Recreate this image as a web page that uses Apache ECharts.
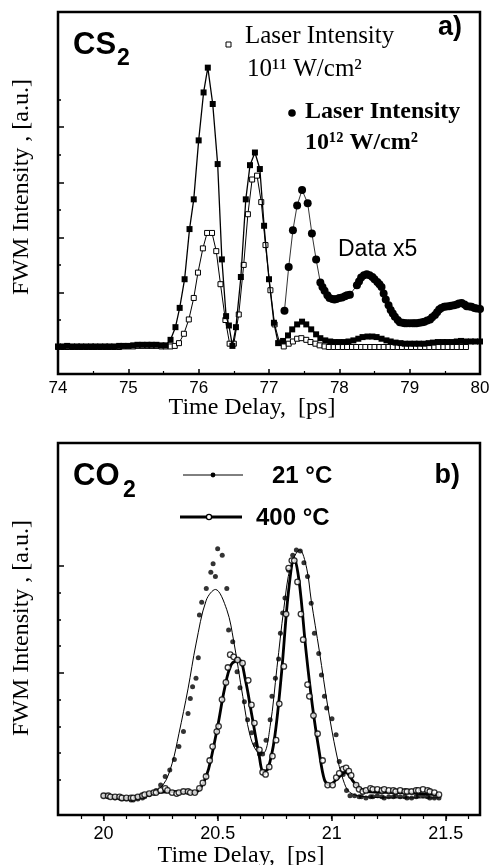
<!DOCTYPE html>
<html><head><meta charset="utf-8">
<script src="https://cdn.jsdelivr.net/npm/echarts@6/dist/echarts.min.js"></script>
<style>html,body{margin:0;padding:0;background:#fff}#c{width:493px;height:865px}</style>
</head><body><div id="c"></div>
<script>
// ---------- Panel a) CS2 ----------
const aXLabels = [74, 75, 76, 77, 78, 79, 80];
const aYMajor = [0, 1, 2, 3, 4];
const aYMinor = [0.5, 1.5, 2.5, 3.5, 4.5];

// 10^11 W/cm^2 (open squares)
const s11T = [74.00,74.07,74.13,74.20,74.27,74.33,74.40,74.47,74.53,74.60,74.67,74.73,74.80,74.87,74.93,75.00,75.07,75.13,75.20,75.27,75.33,75.40,75.47,75.53,75.60,75.66,75.72,75.79,75.86,75.93,75.99,76.06,76.12,76.19,76.25,76.31,76.38,76.44,76.50,76.57,76.64,76.70,76.76,76.83,76.89,76.95,77.02,77.08,77.15,77.21,77.28,77.34,77.40,77.46,77.53,77.59,77.66,77.72,77.79,77.85,77.92,77.98,78.05,78.11,78.18,78.24,78.31,78.37,78.44,78.50,78.57,78.63,78.70,78.76,78.83,78.89,78.96,79.02,79.09,79.15,79.22,79.28,79.35,79.41,79.48,79.54,79.61,79.67,79.74,79.80];
const s11V = [0.01,0.01,0.01,0.01,0.01,0.01,0.01,0.01,0.01,0.01,0.01,0.01,0.01,0.01,0.02,0.02,0.02,0.03,0.03,0.03,0.03,0.03,0.02,0.02,0.02,0.03,0.08,0.25,0.51,0.90,1.36,1.80,2.08,2.08,1.75,1.15,0.50,0.07,0.07,0.60,1.50,2.42,3.05,3.12,2.64,1.86,1.04,0.42,0.09,0.02,0.07,0.11,0.16,0.17,0.14,0.10,0.07,0.04,0.02,0.01,0.01,0.01,0.01,0.01,0.01,0.01,0.01,0.01,0.01,0.01,0.01,0.01,0.01,0.01,0.01,0.01,0.01,0.01,0.01,0.01,0.01,0.01,0.01,0.01,0.01,0.01,0.01,0.01,0.01,0.01];

// 10^12 W/cm^2 (filled squares)
const s12T = [74.00,74.07,74.13,74.20,74.27,74.33,74.40,74.47,74.53,74.60,74.67,74.73,74.80,74.87,74.93,75.00,75.07,75.13,75.20,75.27,75.33,75.40,75.47,75.53,75.60,75.67,75.73,75.80,75.87,75.93,76.00,76.07,76.13,76.20,76.27,76.33,76.39,76.43,76.48,76.53,76.60,76.67,76.73,76.80,76.87,76.93,77.00,77.07,77.13,77.20,77.27,77.33,77.40,77.47,77.53,77.60,77.67,77.73,77.80,77.87,77.93,78.00,78.07,78.13,78.20,78.27,78.33,78.40,78.47,78.53,78.60,78.67,78.73,78.80,78.87,78.93,79.00,79.07,79.13,79.20,79.27,79.33,79.40,79.47,79.53,79.60,79.67,79.73,79.80,79.87,79.93,80.00];
const s12V = [0.02,0.02,0.03,0.02,0.02,0.02,0.02,0.02,0.02,0.02,0.02,0.02,0.02,0.03,0.03,0.03,0.04,0.05,0.05,0.05,0.05,0.05,0.04,0.04,0.14,0.37,0.72,1.24,2.15,2.69,3.76,4.63,5.08,4.42,3.33,1.60,0.57,0.40,0.03,0.37,1.28,2.69,3.31,3.54,3.24,2.21,1.24,0.45,0.08,0.12,0.22,0.33,0.42,0.47,0.42,0.33,0.24,0.17,0.13,0.11,0.10,0.10,0.10,0.11,0.13,0.16,0.19,0.20,0.20,0.19,0.16,0.13,0.11,0.09,0.08,0.07,0.07,0.07,0.07,0.07,0.08,0.09,0.10,0.10,0.10,0.10,0.11,0.12,0.11,0.11,0.11,0.11];

// Data x5 (filled circles)
const sx5T = [77.22,77.28,77.34,77.40,77.47,77.55,77.61,77.67,77.73,77.76,77.79,77.83,77.86,77.90,77.93,77.96,78.00,78.04,78.08,78.11,78.15,78.25,78.28,78.31,78.35,78.39,78.43,78.47,78.50,78.54,78.57,78.60,78.63,78.66,78.70,78.73,78.76,78.79,78.83,78.86,78.90,78.93,78.96,79.00,79.04,79.07,79.10,79.14,79.18,79.21,79.25,79.29,79.32,79.36,79.39,79.42,79.45,79.49,79.52,79.56,79.59,79.63,79.67,79.70,79.74,79.78,79.81,79.85,79.88,79.92,79.95,80.00];
const sx5V = [0.67,1.46,2.13,2.58,2.86,2.62,2.07,1.60,1.18,1.10,1.03,0.95,0.90,0.88,0.87,0.88,0.90,0.91,0.93,0.95,0.96,1.13,1.20,1.27,1.31,1.33,1.31,1.28,1.24,1.19,1.15,1.10,0.98,0.87,0.77,0.68,0.62,0.56,0.50,0.46,0.45,0.44,0.44,0.44,0.44,0.44,0.44,0.45,0.46,0.47,0.49,0.51,0.55,0.59,0.64,0.69,0.72,0.74,0.745,0.75,0.76,0.77,0.78,0.80,0.81,0.78,0.75,0.745,0.74,0.72,0.71,0.70];

// ---------- Panel b) CO2 ----------
const bXLabels = [20, 20.5, 21, 21.5];
const bXMinor = [19.9,20.0,20.1,20.2,20.3,20.4,20.5,20.6,20.7,20.8,20.9,21.0,21.1,21.2,21.3,21.4,21.5,21.6];
const bYMajor = [1, 2];
const bYMinor = [0, 0.25, 0.5, 0.75, 1.25, 1.5, 1.75];

// 21 C measured (filled dots)
const d21T = [20.00,20.02,20.03,20.05,20.07,20.08,20.10,20.12,20.13,20.15,20.17,20.18,20.20,20.22,20.23,20.25,20.27,20.29,20.31,20.33,20.35,20.37,20.38,20.39,20.405,20.415,20.42,20.43,20.45,20.47,20.48,20.49,20.50,20.52,20.54,20.548,20.566,20.585,20.598,20.617,20.631,20.649,20.665,20.683,20.697,20.712,20.73,20.738,20.753,20.767,20.775,20.785,20.795,20.811,20.829,20.845,20.862,20.878,20.894,20.91,20.924,20.943,20.955,20.968,20.978,21.001,21.019,21.033,21.05,21.065,21.08,21.10,21.12,21.13,21.15,21.17,21.18,21.20,21.22,21.23,21.25,21.27,21.28,21.30,21.32,21.33,21.35,21.37,21.38,21.40,21.42,21.43,21.45,21.47];
const d21V = [-0.15,-0.16,-0.16,-0.17,-0.17,-0.18,-0.18,-0.19,-0.19,-0.18,-0.17,-0.16,-0.14,-0.12,-0.10,-0.05,0.03,0.09,0.19,0.31,0.45,0.62,0.76,0.87,0.95,1.14,1.54,1.66,1.79,1.94,2.02,1.90,2.16,2.10,1.79,1.40,1.29,1.01,0.86,0.73,0.56,0.44,0.33,0.24,0.24,0.37,0.56,0.78,0.95,1.13,1.37,1.56,1.70,1.96,2.10,2.15,2.14,2.03,1.90,1.65,1.37,1.18,0.98,0.78,0.67,0.57,0.42,0.17,0.05,-0.10,-0.15,-0.15,-0.16,-0.16,-0.17,-0.16,-0.16,-0.15,-0.16,-0.17,-0.16,-0.16,-0.15,-0.16,-0.16,-0.17,-0.17,-0.16,-0.15,-0.15,-0.16,-0.17,-0.17,-0.17];

// 21 C fit (thin line)
const f21T = [20.00,20.10,20.20,20.26,20.30,20.33,20.37,20.405,20.45,20.49,20.54,20.57,20.61,20.64,20.67,20.70,20.73,20.76,20.79,20.82,20.86,20.89,20.91,20.946,20.983,21.02,21.05,21.08,21.15,21.30,21.47];
const f21V = [-0.15,-0.17,-0.13,-0.05,0.15,0.43,0.85,1.27,1.68,1.78,1.59,1.30,0.78,0.43,0.27,0.25,0.50,1.05,1.60,2.00,2.15,1.98,1.68,1.20,0.68,0.25,0.00,-0.12,-0.16,-0.17,-0.17];

// 400 C measured (open circles)
const c400T = [20.00,20.02,20.03,20.05,20.07,20.08,20.10,20.12,20.13,20.15,20.17,20.18,20.20,20.22,20.23,20.25,20.27,20.28,20.30,20.32,20.33,20.35,20.37,20.38,20.40,20.42,20.435,20.449,20.465,20.478,20.496,20.504,20.519,20.536,20.545,20.555,20.57,20.587,20.609,20.634,20.648,20.661,20.683,20.697,20.71,20.726,20.74,20.756,20.77,20.79,20.80,20.811,20.825,20.836,20.85,20.865,20.875,20.894,20.902,20.92,20.938,20.96,20.982,21.004,21.02,21.033,21.05,21.063,21.075,21.085,21.107,21.12,21.136,21.15,21.17,21.18,21.20,21.22,21.23,21.25,21.27,21.28,21.30,21.32,21.33,21.35,21.37,21.38,21.40,21.42,21.43,21.45,21.47];
const c400V = [-0.15,-0.15,-0.16,-0.16,-0.16,-0.17,-0.17,-0.17,-0.17,-0.16,-0.15,-0.14,-0.13,-0.12,-0.12,-0.10,-0.08,-0.10,-0.12,-0.13,-0.12,-0.11,-0.11,-0.12,-0.12,-0.08,-0.03,0.03,0.18,0.31,0.45,0.50,0.75,0.91,1.05,1.17,1.15,1.12,1.09,0.93,0.70,0.53,0.28,0.07,0.05,0.12,0.22,0.37,0.71,1.06,1.55,1.98,2.05,2.05,1.85,1.55,1.31,0.89,0.78,0.60,0.43,0.18,-0.05,-0.05,0.02,0.06,0.10,0.11,0.08,0.04,-0.05,-0.09,-0.11,-0.10,-0.08,-0.09,-0.09,-0.10,-0.09,-0.10,-0.10,-0.11,-0.10,-0.11,-0.11,-0.11,-0.10,-0.10,-0.09,-0.10,-0.11,-0.12,-0.14];

// 400 C fit (thick line)
const f400T = [20.00,20.10,20.20,20.30,20.40,20.43,20.46,20.50,20.53,20.56,20.595,20.62,20.65,20.68,20.70,20.72,20.75,20.78,20.81,20.836,20.858,20.887,20.916,20.946,20.968,20.99,21.02,21.06,21.10,21.15,21.30,21.47];
const f400V = [-0.15,-0.17,-0.13,-0.11,-0.12,-0.06,0.10,0.50,0.85,1.08,1.12,0.95,0.60,0.25,0.08,0.10,0.40,1.00,1.75,2.07,1.84,1.21,0.68,0.25,0.00,-0.05,0.00,0.07,-0.03,-0.11,-0.12,-0.14];

const zip = (t, v) => t.map((x, i) => [x, v[i]]);

const SANS = 'Liberation Sans';
const tickStyle = {color: '#000', width: 1.5};
const noLabel = {show: false};
const noLine = {show: false, onZero: false};

const chart = echarts.init(document.getElementById('c'), null, {renderer: 'canvas'});
const option = {
  animation: false,
  backgroundColor: '#fff',
  grid: [
    {left: 58, top: 12, width: 422, height: 362, show: true, borderColor: '#000', borderWidth: 2.5, backgroundColor: 'transparent'},
    {left: 58, top: 443, width: 422, height: 372, show: true, borderColor: '#000', borderWidth: 2.5, backgroundColor: 'transparent'}
  ],
  xAxis: [
    {gridIndex: 0, type: 'value', min: 74, max: 80, interval: 1, position: 'bottom',
      axisLine: noLine, splitLine: {show: false},
      axisTick: {inside: true, length: 5, lineStyle: tickStyle},
      minorTick: {show: true, splitNumber: 2, length: 3, lineStyle: {color: '#000', width: 1.2}},
      minorSplitLine: {show: false},
      axisLabel: {color: '#000', fontFamily: SANS, fontSize: 17, margin: 6, customValues: aXLabels}},
    {gridIndex: 1, type: 'value', min: 19.8, max: 21.65, position: 'bottom',
      axisLine: noLine, splitLine: {show: false},
      axisTick: {length: 4, customValues: bXMinor, lineStyle: {color: '#000', width: 1.2}},
      axisLabel: {color: '#000', fontFamily: SANS, fontSize: 18, margin: 10, customValues: bXLabels}},
    {gridIndex: 1, type: 'value', min: 19.8, max: 21.65, position: 'bottom',
      axisLine: noLine, splitLine: {show: false},
      axisTick: {length: 6, customValues: bXLabels, lineStyle: tickStyle},
      axisLabel: noLabel}
  ],
  yAxis: [
    {gridIndex: 0, type: 'value', min: -0.48, max: 6.09, position: 'left',
      axisLine: noLine, splitLine: {show: false},
      axisTick: {inside: true, length: 6, customValues: aYMajor, lineStyle: tickStyle},
      axisLabel: noLabel},
    {gridIndex: 0, type: 'value', min: -0.48, max: 6.09, position: 'left',
      axisLine: noLine, splitLine: {show: false},
      axisTick: {inside: true, length: 3, customValues: aYMinor, lineStyle: tickStyle},
      axisLabel: noLabel},
    {gridIndex: 1, type: 'value', min: -0.33, max: 3.15, position: 'left',
      axisLine: noLine, splitLine: {show: false},
      axisTick: {inside: true, length: 6, customValues: bYMajor, lineStyle: tickStyle},
      axisLabel: noLabel},
    {gridIndex: 1, type: 'value', min: -0.33, max: 3.15, position: 'left',
      axisLine: noLine, splitLine: {show: false},
      axisTick: {inside: true, length: 3, customValues: bYMinor, lineStyle: tickStyle},
      axisLabel: noLabel}
  ],
  series: [
    {type: 'line', name: '1e11', xAxisIndex: 0, yAxisIndex: 0, data: zip(s11T, s11V),
      symbol: 'rect', symbolSize: 5, showAllSymbol: true,
      lineStyle: {color: '#000', width: 1},
      itemStyle: {color: '#fff', borderColor: '#000', borderWidth: 1}, z: 3},
    {type: 'line', name: '1e12', xAxisIndex: 0, yAxisIndex: 0, data: zip(s12T, s12V),
      symbol: 'rect', symbolSize: 6, showAllSymbol: true,
      lineStyle: {color: '#000', width: 1.3},
      itemStyle: {color: '#000'}, z: 4},
    {type: 'line', name: 'x5', xAxisIndex: 0, yAxisIndex: 0, data: zip(sx5T, sx5V),
      symbol: 'circle', symbolSize: 8, showAllSymbol: true,
      lineStyle: {color: '#000', width: 0.8},
      itemStyle: {color: '#000'}, z: 4},

    {type: 'line', name: 'fit400', xAxisIndex: 1, yAxisIndex: 2, data: zip(f400T, f400V),
      smooth: 0.35, showSymbol: false, lineStyle: {color: '#000', width: 2.8}, z: 2},
    {type: 'line', name: 'fit21', xAxisIndex: 1, yAxisIndex: 2, data: zip(f21T, f21V),
      smooth: 0.35, showSymbol: false, lineStyle: {color: '#000', width: 1}, z: 2},
    {type: 'scatter', name: 'd21', xAxisIndex: 1, yAxisIndex: 2, data: zip(d21T, d21V),
      symbol: 'circle', symbolSize: 5, itemStyle: {color: '#000'}, z: 3},
    {type: 'scatter', name: 'c400', xAxisIndex: 1, yAxisIndex: 2, data: zip(c400T, c400V),
      symbol: 'circle', symbolSize: 5.5, itemStyle: {color: '#fff', borderColor: '#000', borderWidth: 1.3}, z: 4}
  ],
  graphic: [
    {type: 'text', x: 22, y: 187, rotation: Math.PI / 2,
      style: {text: 'FWM Intensity , [a.u.]', font: '24px "Liberation Serif"', fill: '#000', textAlign: 'center', textVerticalAlign: 'middle'}},
    {type: 'text', x: 22, y: 628, rotation: Math.PI / 2,
      style: {text: 'FWM Intensity , [a.u.]', font: '24px "Liberation Serif"', fill: '#000', textAlign: 'center', textVerticalAlign: 'middle'}},
    {type: 'text', x: 252, y: 408,
      style: {text: 'Time Delay,  [ps]', font: '24px "Liberation Serif"', fill: '#000', textAlign: 'center', textVerticalAlign: 'middle'}},
    {type: 'text', x: 241, y: 856,
      style: {text: 'Time Delay,  [ps]', font: '24px "Liberation Serif"', fill: '#000', textAlign: 'center', textVerticalAlign: 'middle'}},

    {type: 'text', x: 73, y: 45, style: {text: 'CS', font: 'bold 31px "Liberation Sans"', fill: '#000', textAlign: 'left', textVerticalAlign: 'middle'}},
    {type: 'text', x: 117, y: 59, style: {text: '2', font: 'bold 23px "Liberation Sans"', fill: '#000', textAlign: 'left', textVerticalAlign: 'middle'}},
    {type: 'text', x: 462, y: 28, style: {text: 'a)', font: 'bold 27px "Liberation Sans"', fill: '#000', textAlign: 'right', textVerticalAlign: 'middle'}},
    {type: 'rect', shape: {x: 226, y: 42, width: 5, height: 5}, style: {fill: '#fff', stroke: '#000', lineWidth: 1}},
    {type: 'text', x: 245, y: 36, style: {text: 'Laser Intensity', font: '25px "Liberation Serif"', fill: '#000', textAlign: 'left', textVerticalAlign: 'middle'}},
    {type: 'text', x: 247, y: 69, style: {text: '10\u00b9\u00b9 W/cm\u00b2', font: '25px "Liberation Serif"', fill: '#000', textAlign: 'left', textVerticalAlign: 'middle'}},
    {type: 'circle', shape: {cx: 292, cy: 113, r: 3.8}, style: {fill: '#000'}},
    {type: 'text', x: 305, y: 112, style: {text: 'Laser Intensity', font: 'bold 24px "Liberation Serif"', fill: '#000', textAlign: 'left', textVerticalAlign: 'middle'}},
    {type: 'text', x: 305, y: 143, style: {text: '10\u00b9\u00b2 W/cm\u00b2', font: 'bold 24px "Liberation Serif"', fill: '#000', textAlign: 'left', textVerticalAlign: 'middle'}},
    {type: 'text', x: 338, y: 250, style: {text: 'Data x5', font: '23px "Liberation Sans"', fill: '#000', textAlign: 'left', textVerticalAlign: 'middle'}},

    {type: 'text', x: 73, y: 476, style: {text: 'CO', font: 'bold 31px "Liberation Sans"', fill: '#000', textAlign: 'left', textVerticalAlign: 'middle'}},
    {type: 'text', x: 123, y: 491, style: {text: '2', font: 'bold 23px "Liberation Sans"', fill: '#000', textAlign: 'left', textVerticalAlign: 'middle'}},
    {type: 'text', x: 460, y: 476, style: {text: 'b)', font: 'bold 27px "Liberation Sans"', fill: '#000', textAlign: 'right', textVerticalAlign: 'middle'}},
    {type: 'line', shape: {x1: 183, y1: 475, x2: 243, y2: 475}, style: {stroke: '#000', lineWidth: 1}},
    {type: 'circle', shape: {cx: 213, cy: 475, r: 2.4}, style: {fill: '#000'}},
    {type: 'text', x: 272, y: 476, style: {text: '21 \u00b0C', font: 'bold 24px "Liberation Sans"', fill: '#000', textAlign: 'left', textVerticalAlign: 'middle'}},
    {type: 'line', shape: {x1: 180, y1: 517, x2: 242, y2: 517}, style: {stroke: '#000', lineWidth: 3}},
    {type: 'circle', shape: {cx: 209, cy: 517, r: 2.6}, style: {fill: '#fff', stroke: '#000', lineWidth: 1.3}},
    {type: 'text', x: 256, y: 518, style: {text: '400 \u00b0C', font: 'bold 24px "Liberation Sans"', fill: '#000', textAlign: 'left', textVerticalAlign: 'middle'}}
  ]
};
chart.setOption(option);
</script>
</body></html>
